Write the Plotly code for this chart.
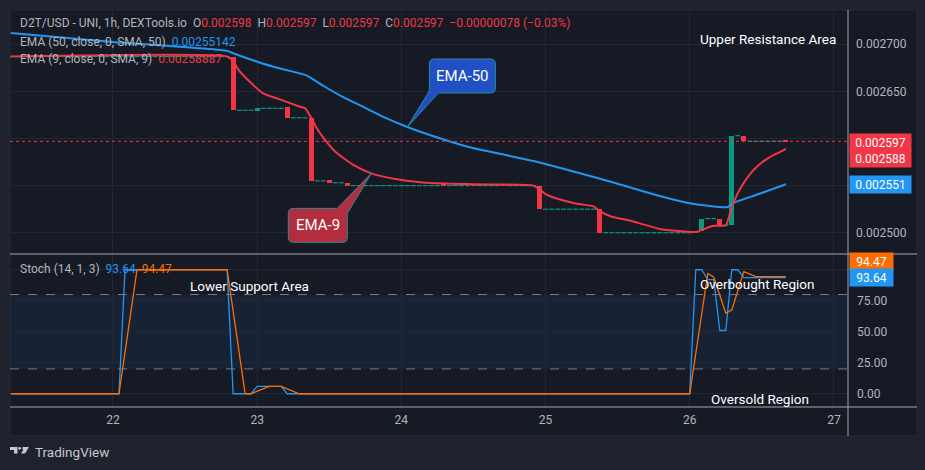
import pandas as pd
import plotly.graph_objects as go

BASE = pd.Timestamp("2023-06-22 00:00")

# hourly candles, hour offsets from 22 00:00
HOURS = list(range(-17, 113))

OPEN = [
    # -17 .. 19
    0.002687, 0.002687, 0.002687, 0.002687, 0.002687, 0.002687, 0.002687, 0.002687, 0.002687, 0.002687,
    0.002687, 0.002687, 0.002687, 0.002687, 0.002687, 0.002687, 0.002687, 0.002687, 0.002687, 0.002687,
    0.002687, 0.002687, 0.002687, 0.002687, 0.002687, 0.002687, 0.002687, 0.002687, 0.002687, 0.002687,
    0.002687, 0.002687, 0.002687, 0.002687, 0.002687, 0.002687, 0.002687,
    # 20 .. 39
    0.002687, 0.002630, 0.002630, 0.002630, 0.002630, 0.002632, 0.002632, 0.002632, 0.002632, 0.002633,
    0.002622, 0.002622, 0.002622, 0.002622, 0.002555, 0.002555, 0.002555, 0.002553, 0.002553, 0.002553,
    # 40 .. 70
    0.002550, 0.002550, 0.002550, 0.002550, 0.002550, 0.002550, 0.002550, 0.002550, 0.002550, 0.002550,
    0.002550, 0.002550, 0.002550, 0.002550, 0.002550, 0.0025515, 0.002550, 0.002550, 0.002550, 0.002550,
    0.0025515, 0.002550, 0.002550, 0.002550, 0.002550, 0.0025515, 0.002550, 0.002550, 0.002550, 0.002550,
    0.002550,
    # 71 .. 80
    0.002550, 0.002525, 0.002525, 0.002525, 0.002525, 0.002525, 0.002525, 0.002525, 0.002525, 0.002525,
    # 81 .. 96
    0.002525, 0.002500, 0.002500, 0.002500, 0.002500, 0.002500, 0.002500, 0.002500, 0.002500, 0.002500,
    0.002500, 0.002500, 0.002500, 0.002500, 0.002500, 0.002500,
    # 97 .. 112
    0.002500, 0.0025015, 0.002515, 0.002515, 0.002515, 0.002508, 0.002508, 0.002603, 0.002603, 0.002597,
    0.002597, 0.002597, 0.002597, 0.002597, 0.002597, 0.002598,
]

CLOSE = [
    # -17 .. 19
    0.002687, 0.002687, 0.002687, 0.002687, 0.002687, 0.002687, 0.002687, 0.002687, 0.002687, 0.002687,
    0.002687, 0.002687, 0.002687, 0.002687, 0.002687, 0.002687, 0.002687, 0.002687, 0.002687, 0.002687,
    0.002687, 0.002687, 0.002687, 0.002687, 0.002687, 0.002687, 0.002687, 0.002687, 0.002687, 0.002687,
    0.002687, 0.002687, 0.002687, 0.002687, 0.002687, 0.002687, 0.002687,
    # 20 .. 39
    0.002630, 0.002630, 0.002630, 0.002630, 0.002632, 0.002632, 0.002632, 0.002632, 0.002632, 0.002622,
    0.002622, 0.002622, 0.002622, 0.002555, 0.002555, 0.002555, 0.002553, 0.002553, 0.002553, 0.002550,
    # 40 .. 70
    0.002550, 0.002550, 0.002550, 0.002550, 0.002550, 0.002550, 0.002550, 0.002550, 0.002550, 0.002550,
    0.002550, 0.002550, 0.002550, 0.002550, 0.002550, 0.002550, 0.002550, 0.002550, 0.002550, 0.002550,
    0.002550, 0.002550, 0.002550, 0.002550, 0.002550, 0.002550, 0.002550, 0.002550, 0.002550, 0.002550,
    0.002550,
    # 71 .. 80
    0.002525, 0.002525, 0.002525, 0.002525, 0.002525, 0.002525, 0.002525, 0.002525, 0.002525, 0.002525,
    # 81 .. 96
    0.002500, 0.002500, 0.002500, 0.002500, 0.002500, 0.002500, 0.002500, 0.002500, 0.002500, 0.002500,
    0.002500, 0.002500, 0.002500, 0.002500, 0.002500, 0.002500,
    # 97 .. 112
    0.0025015, 0.002515, 0.002515, 0.002515, 0.002508, 0.002508, 0.002603, 0.002603, 0.002597, 0.002597,
    0.002597, 0.002597, 0.002597, 0.002597, 0.002597, 0.002597,
]

EMA50_H = [-17, 0, 19, 20, 24, 28, 32, 33, 35, 38, 41, 45, 49, 54, 59, 65, 70, 74.5, 80, 85.7, 91,
           96.7, 102.3, 103.3, 107, 112]
EMA50_V = [0.002712, 0.0027025, 0.002693, 0.0026905, 0.0026815, 0.002674, 0.0026675, 0.002664,
           0.002656, 0.002645, 0.0026356, 0.002623, 0.0026122, 0.002601, 0.0025913, 0.002583,
           0.0025761, 0.0025687, 0.0025592, 0.0025488, 0.002539, 0.0025305, 0.0025273, 0.0025316,
           0.00254, 0.0025514]

EMA9_H = [-17, 19, 20, 21, 22, 25, 28, 31, 32, 33, 34, 35, 37, 40, 43, 47, 52, 60, 70, 71, 72, 74,
          77, 80, 81, 83, 86, 91, 97, 98, 99, 100, 101, 102, 103, 104, 105, 106, 107, 108, 109, 110,
          111, 112]
EMA9_V = [0.002687, 0.002687, 0.002682, 0.002672, 0.002665, 0.002648, 0.002641, 0.002634, 0.002632,
          0.002622, 0.002610, 0.002601, 0.002586, 0.002572, 0.002563, 0.002557, 0.002553, 0.0025514,
          0.00255, 0.002546, 0.002541, 0.002536, 0.002531, 0.002528, 0.002523, 0.002517, 0.002513,
          0.002504, 0.0025007, 0.002503, 0.0025054, 0.0025073, 0.0025075, 0.0025076, 0.002527,
          0.002542, 0.002553, 0.002562, 0.002569, 0.0025746, 0.002579, 0.0025826, 0.0025855,
          0.0025889]

K_H = [-17, 1, 2, 19, 20, 23, 24, 28, 29, 96, 97, 98, 99, 100, 101, 102, 103, 104, 105, 112]
K_V = [0, 0, 100, 100, 0, 0, 6, 6, 0, 0, 100, 100, 92, 92, 51, 51, 100, 100, 93.64, 93.64]
D_H = [-17, 1, 4, 19, 22, 23, 26, 28, 31, 96, 99, 100, 102, 103, 105, 107, 112]
D_V = [0, 0, 100, 100, 0, 0, 6, 6, 0, 0, 97, 94, 65, 67.5, 98.5, 94.47, 94.47]

PRICE_TICKS = [0.0025, 0.00255, 0.0026, 0.00265, 0.0027]
PRICE_TICKTEXT = ["0.002500", "", "", "0.002650", "0.002700"]
STOCH_TICKS = [0, 25, 50, 75, 100]
STOCH_TICKTEXT = ["0.00", "25.00", "50.00", "75.00", ""]

RED = "#f23645"
GREEN = "#089981"
BLUE = "#2196f3"
ORANGE = "#ff6d00"
TXT = "#b2b5be"
GRID = "#232733"
FONT = "Roboto"


def t(h):
    return BASE + pd.Timedelta(hours=h)


# pixel -> paper helpers (plot area: x 10..848, y 10..407)
def px(x):
    return (x - 10) / 838


def py(y):
    return (407 - y) / 397


SPLIT = py(254)

fig = go.Figure()

# candles
bx, bb, bh, bc, dx, dy = [], [], [], [], [], []
for h, o, c in zip(HOURS, OPEN, CLOSE):
    if abs(c - o) < 1e-10:
        dx.append(t(h)); dy.append(c)
    else:
        bx.append(t(h)); bb.append(o); bh.append(c - o)
        bc.append(GREEN if c > o else RED)

fig.add_trace(go.Scatter(x=dx, y=dy, mode="markers", xaxis="x", yaxis="y",
                         marker=dict(symbol="line-ew", size=3.5, color=GREEN,
                                     line=dict(width=1.2, color=GREEN)),
                         hoverinfo="skip"))
fig.add_trace(go.Bar(x=bx, y=bh, base=bb, width=0.8 * 3600000, xaxis="x", yaxis="y",
                     marker=dict(color=bc, line=dict(width=0))))

fig.add_trace(go.Scatter(x=[t(h) for h in EMA50_H], y=EMA50_V, mode="lines", xaxis="x", yaxis="y",
                         line=dict(color=BLUE, width=2, shape="spline", smoothing=0.5)))
fig.add_trace(go.Scatter(x=[t(h) for h in EMA9_H], y=EMA9_V, mode="lines", xaxis="x", yaxis="y",
                         line=dict(color=RED, width=2, shape="spline", smoothing=0.5)))

fig.add_trace(go.Scatter(x=[t(h) for h in K_H], y=K_V, mode="lines", xaxis="x", yaxis="y2",
                         line=dict(color=BLUE, width=1.3)))
fig.add_trace(go.Scatter(x=[t(h) for h in D_H], y=D_V, mode="lines", xaxis="x", yaxis="y2",
                         line=dict(color=ORANGE, width=1.3)))

shapes = [
    # panel background incl. axis areas
    dict(type="rect", xref="paper", yref="paper", x0=0, x1=px(917), y0=py(436), y1=1,
         fillcolor="#161a25", line=dict(color="#262a35", width=1), layer="below"),
    # stoch band
    dict(type="rect", xref="paper", yref="y2", x0=0, x1=1, y0=20, y1=80,
         fillcolor="rgba(33,150,243,0.08)", line=dict(width=0), layer="below"),
    dict(type="line", xref="paper", yref="y2", x0=0, x1=1, y0=80, y1=80,
         line=dict(color="#787b86", width=1, dash="dash")),
    dict(type="line", xref="paper", yref="y2", x0=0, x1=1, y0=20, y1=20,
         line=dict(color="#787b86", width=1, dash="dash")),
    # last price dotted line
    dict(type="line", xref="paper", yref="y", x0=0, x1=1, y0=CLOSE[-1], y1=CLOSE[-1],
         line=dict(color=RED, width=1, dash="dot")),
    # pane borders
    dict(type="line", xref="paper", yref="paper", x0=0, x1=px(917), y0=SPLIT, y1=SPLIT,
         line=dict(color="#a3a6af", width=1)),
    dict(type="line", xref="paper", yref="paper", x0=0, x1=px(917), y0=0, y1=0,
         line=dict(color="#a3a6af", width=1)),
    dict(type="line", xref="paper", yref="paper", x0=1, x1=1, y0=py(436), y1=1,
         line=dict(color="#a3a6af", width=1)),
]

# callouts anchored at EMA points
i50 = EMA50_H.index(49)
i9 = EMA9_H.index(43)
shapes.append(dict(type="path", xref="x", yref="y", xsizemode="pixel", ysizemode="pixel",
                   xanchor=t(EMA50_H[i50]), yanchor=EMA50_V[i50],
                   path="M 0,0 L 22,36 L 22,63 Q 22,68 27,68 L 83,68 Q 88,68 88,63 L 88,39 Q 88,34 83,34 L 31,34 Z",
                   fillcolor="#2050c4", line=dict(color="#2a8a9a", width=1)))
shapes.append(dict(type="path", xref="x", yref="y", xsizemode="pixel", ysizemode="pixel",
                   xanchor=t(EMA9_H[i9]), yanchor=EMA9_V[i9],
                   path="M 0,0 L -24,-40 L -24,-64 Q -24,-69 -29,-69 L -78,-69 Q -83,-69 -83,-64 L -83,-40 Q -83,-35 -78,-35 L -34,-35 Z",
                   fillcolor="#b22d3d", line=dict(color="#2a8a9a", width=1)))


# TradingView logo
def ppath(pts):
    s = "M " + " L ".join(f"{px(a):.5f},{py(b):.5f}" for a, b in pts) + " Z"
    return s


shapes.append(dict(type="path", xref="paper", yref="paper",
                   path=ppath([(10, 447), (17.5, 447), (17.5, 453.5), (14, 453.5), (14, 450), (10, 450)]),
                   fillcolor="#c5c8cf", line=dict(width=0)))
shapes.append(dict(type="circle", xref="paper", yref="paper", x0=px(18.3), x1=px(21), y0=py(447), y1=py(449.7),
                   fillcolor="#c5c8cf", line=dict(width=0)))
shapes.append(dict(type="path", xref="paper", yref="paper",
                   path=ppath([(22.5, 447), (29, 447), (25, 453.5), (21, 453.5), (23.5, 449.5), (22.5, 449.5)]),
                   fillcolor="#c5c8cf", line=dict(width=0)))

ann = []


def text(x, y, s, size=12, color=TXT, anchor="left"):
    ann.append(dict(xref="paper", yref="paper", x=px(x), y=py(y), text=s, showarrow=False,
                    xanchor=anchor, yanchor="middle", font=dict(family=FONT, size=size, color=color)))


def sp(s, c):
    return f"<span style='color:{c}'>{s}</span>"


text(18, 23, "D2T/USD - UNI, 1h, DEXTools.io&nbsp; O" + sp("0.002598", RED) + "&nbsp; H" + sp("0.002597", RED)
     + "&nbsp; L" + sp("0.002597", RED) + "&nbsp; C" + sp("0.002597", RED) + "&nbsp; " + sp("−0.00000078 (−0.03%)", RED))
text(18, 42, "EMA (50, close, 0, SMA, 50)&nbsp; " + sp("0.00255142", BLUE))
text(18, 59, "EMA (9, close, 0, SMA, 9)&nbsp; " + sp("0.00258887", RED))
text(18, 269, "Stoch (14, 1, 3)&nbsp; " + sp("93.64", BLUE) + "&nbsp; " + sp("94.47", ORANGE))

text(768, 39, "Upper Resistance Area", 13.5, "#ffffff", "center")
text(249.5, 286, "Lower Support Area", 13.5, "#ffffff", "center")
text(757, 284, "Overbought Region", 13.5, "#ffffff", "center")
text(760, 399, "Oversold Region", 13.5, "#ffffff", "center")
text(33, 452, "TradingView", 13.5, "#c5c8cf", "left")

# callout labels
ann.append(dict(xref="x", yref="y", x=t(EMA50_H[i50]), y=EMA50_V[i50], xshift=55, yshift=51,
                text="EMA-50", showarrow=False, font=dict(family=FONT, size=15, color="#ffffff")))
ann.append(dict(xref="x", yref="y", x=t(EMA9_H[i9]), y=EMA9_V[i9], xshift=-53.5, yshift=-52,
                text="EMA-9", showarrow=False, font=dict(family=FONT, size=15, color="#ffffff")))


# axis tags
def tag(yref, val, s, color, shift=0):
    ann.append(dict(xref="paper", yref=yref, x=1, y=val, xanchor="left", yanchor="middle",
                    xshift=1, yshift=shift, text=s, showarrow=False, bgcolor=color,
                    borderpad=1, width=59 if yref == "y" else 41, height=15, align="center",
                    font=dict(family=FONT, size=12, color="#ffffff")))


tag("y", CLOSE[-1], "0.002597", RED, -1)
tag("y", EMA9_V[-1], "0.002588", RED, -9.5)
tag("y", EMA50_V[-1], "0.002551", BLUE, 0)
tag("y2", D_V[-1], "94.47", ORANGE, 15.5)
tag("y2", K_V[-1], "93.64", BLUE, 0)

fig.update_layout(
    width=925, height=470,
    margin=dict(l=10, r=77, t=10, b=63),
    paper_bgcolor="#1e222d", plot_bgcolor="#161a25",
    showlegend=False, bargap=0,
    font=dict(family=FONT, color=TXT, size=12),
    xaxis=dict(type="date", anchor="y2", domain=[0, 1],
               range=[t(-17.14), t(122.34)], dtick=86400000, tick0=BASE,
               tickformat="%d", showgrid=True, gridcolor=GRID, gridwidth=1,
               zeroline=False, showline=False, ticks="", ticklabelstandoff=4,
               tickfont=dict(family=FONT, size=12, color=TXT)),
    yaxis=dict(domain=[SPLIT, 1], side="right", anchor="x", range=[0.0024774, 0.0027364],
               tickvals=PRICE_TICKS, ticktext=PRICE_TICKTEXT, showgrid=True, gridcolor=GRID,
               zeroline=False, showline=False, ticks="", ticklabelstandoff=7,
               tickfont=dict(family=FONT, size=12, color=TXT)),
    yaxis2=dict(domain=[0, SPLIT], side="right", anchor="x", range=[-10.7, 112.7],
                tickvals=STOCH_TICKS, ticktext=STOCH_TICKTEXT, showgrid=True, gridcolor=GRID,
                zeroline=False, showline=False, ticks="", ticklabelstandoff=8,
                tickfont=dict(family=FONT, size=12, color=TXT)),
    shapes=shapes,
    annotations=ann,
)

fig.write_html("out.html")
